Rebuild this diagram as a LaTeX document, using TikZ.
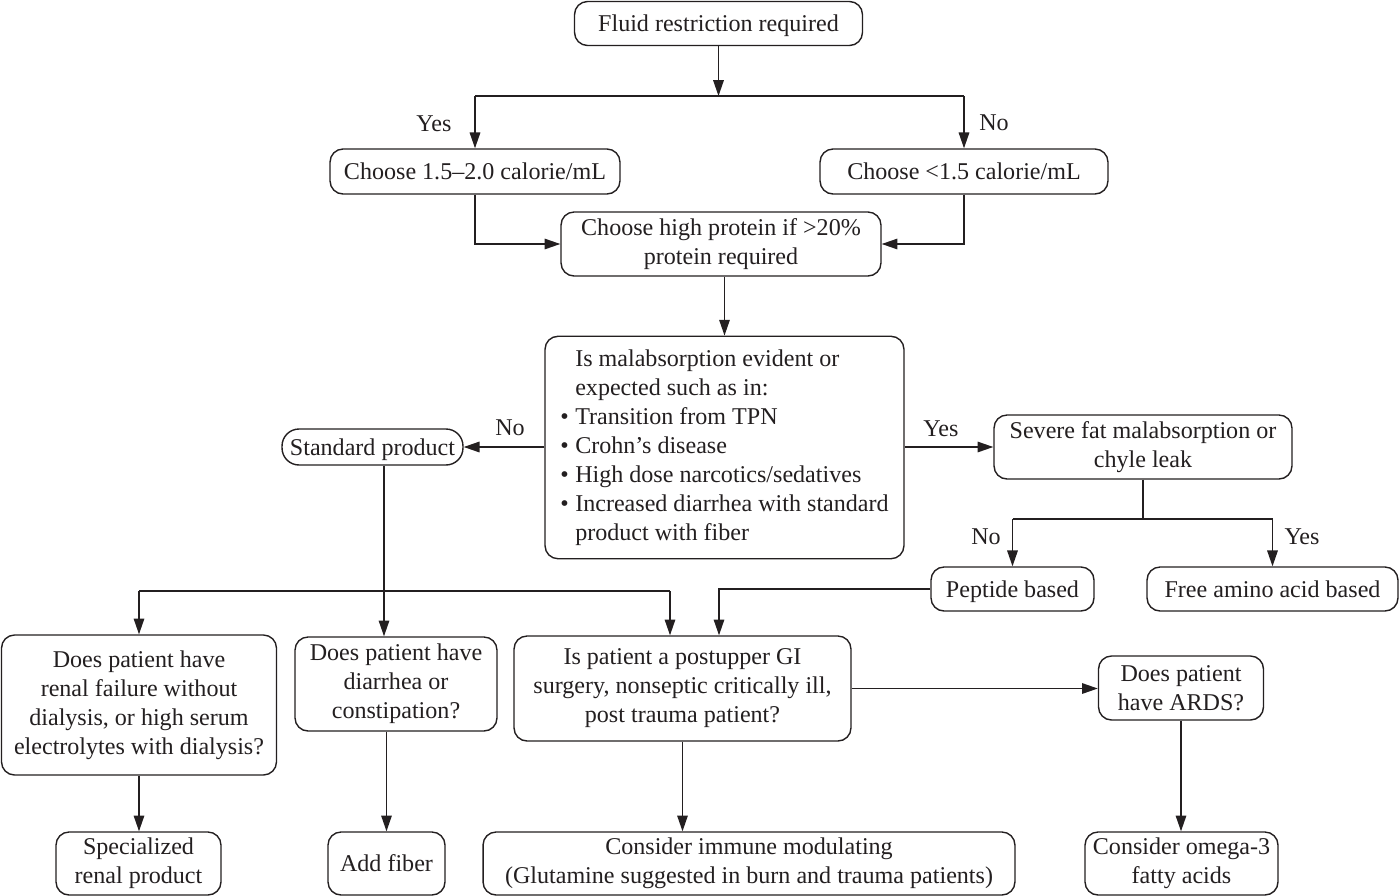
\documentclass[tikz,border=0pt]{standalone}
\usepackage{fontspec}
\setmainfont{Liberation Serif}
\usepackage{tikz}
\usetikzlibrary{arrows.meta, positioning, calc}
\definecolor{flowink}{RGB}{35,31,32}
\newcommand{\flowfont}{\fontsize{13.7}{16.5}\selectfont}
\newcommand{\bul}{\makebox[0.3cm][l]{\textbullet}}
\newcommand{\ind}{\hspace*{0.3cm}}
\tikzset{
  box/.style={rectangle, draw=flowink, fill=white, align=center,
    font=\flowfont, rounded corners=0.26cm, line width=0.8pt,
    inner sep=2pt, text=flowink},
  onebox/.style={box, text depth=0pt},
  pill/.style={onebox, rounded corners=0.34cm},
  lbl/.style={font=\flowfont, text=flowink, inner sep=0pt},
  arrow/.style={-{Triangle[length=9pt, width=6pt]}, line width=0.8pt, color=flowink},
  line/.style={line width=0.8pt, color=flowink}
}

\begin{document}
\begin{tikzpicture}[x=0.02cm, y=-0.02cm]
  \useasboundingbox (0,0) rectangle (1400,896);
  % top part
  \node[onebox, minimum width=5.76cm, minimum height=0.88cm] (fluid) at (718.5,23.5) {Fluid restriction required};
  \node[onebox, minimum width=5.8cm, minimum height=0.9cm] (choosehi) at (475,171.5) {Choose 1.5--2.0 calorie/mL};
  \node[onebox, minimum width=5.76cm, minimum height=0.9cm] (chooselo) at (964,171.5) {Choose <1.5 calorie/mL};
  \node[box, minimum width=6.4cm, minimum height=1.28cm] (protein) at (721,244) {Choose high protein if >20\%\\protein required};
  % malabsorption question
  \node[box, align=left, minimum width=7.18cm, minimum height=4.45cm] (malabs) at (724.5,447.5)
    {\ind Is malabsorption evident or\\
     \ind expected such as in:\\
     \bul Transition from TPN\\
     \bul Crohn's disease\\
     \bul High dose narcotics/sedatives\\
     \bul Increased diarrhea with standard\\
     \ind product with fiber};
  \node[pill, minimum width=3.62cm, minimum height=0.72cm] (standard) at (372.5,447) {Standard product};
  \node[box, minimum width=5.96cm, minimum height=1.28cm] (severe) at (1143,447) {Severe fat malabsorption or\\chyle leak};
  \node[onebox, minimum width=3.26cm, minimum height=0.88cm] (peptide) at (1012.5,589) {Peptide based};
  \node[onebox, minimum width=5.02cm, minimum height=0.88cm] (freeaa) at (1272.5,589) {Free amino acid based};
  % questions row
  \node[box, minimum width=5.5cm, minimum height=2.8cm] (renal) at (139,705) {Does patient have\\renal failure without\\dialysis, or high serum\\electrolytes with dialysis?};
  \node[box, minimum width=4.04cm, minimum height=1.88cm] (diarrhea) at (396,684) {Does patient have\\diarrhea or\\constipation?};
  \node[box, minimum width=6.74cm, minimum height=2.1cm] (postop) at (682.5,688.5) {Is patient a postupper GI\\surgery, nonseptic critically ill,\\post trauma patient?};
  \node[box, minimum width=3.3cm, minimum height=1.28cm] (ards) at (1181,688) {Does patient\\have ARDS?};
  % results row
  \node[box, minimum width=3.3cm, minimum height=1.26cm] (renalprod) at (138.5,863.5) {Specialized\\renal product};
  \node[onebox, minimum width=2.34cm, minimum height=1.26cm] (fiber) at (386.5,863.5) {Add fiber};
  \node[box, minimum width=10.64cm, minimum height=1.26cm] (immune) at (749,863.5) {Consider immune modulating\\(Glutamine suggested in burn and trauma patients)};
  \node[box, minimum width=3.86cm, minimum height=1.26cm] (omega) at (1181.5,863.5) {Consider omega-3\\fatty acids};
  % yes/no labels
  \node[lbl] (yestop) at (434,124) {Yes};
  \node[lbl] (notop) at (994,123) {No};
  \node[lbl] (nomal) at (510,428) {No};
  \node[lbl] (yesmal) at (941,429) {Yes};
  \node[lbl] (nofat) at (986,537) {No};
  \node[lbl] (yesfat) at (1302,537) {Yes};
  % junction points
  \coordinate (splittop) at (718.5,96);
  \coordinate (splitfat) at (1143,519);
  \coordinate (splitstd) at (384,591);
  \coordinate (inleft) at (670,591);
  \coordinate (inright) at (719,591);
  % connectors
  \draw[arrow] (fluid.south) -- (splittop);
  \draw[line] (choosehi.north |- splittop) -- (chooselo.north |- splittop);
  \draw[arrow] (choosehi.north |- splittop) -- (choosehi.north);
  \draw[arrow] (chooselo.north |- splittop) -- (chooselo.north);
  \draw[arrow] (choosehi.south) |- (protein.west);
  \draw[arrow] (chooselo.south) |- (protein.east);
  \draw[arrow] (malabs.north |- protein.south) -- (malabs.north);
  \draw[arrow] (malabs.west |- standard.east) -- (standard.east);
  \draw[arrow] (malabs.east |- severe.west) -- (severe.west);
  \draw[line] (severe.south) -- (splitfat);
  \draw[line] (peptide.north |- splitfat) -- (freeaa.north |- splitfat);
  \draw[arrow] (peptide.north |- splitfat) -- (peptide.north);
  \draw[arrow] (freeaa.north |- splitfat) -- (freeaa.north);
  \draw[arrow] (splitstd |- standard.south) -- (splitstd |- diarrhea.north);
  \draw[line] (renal.north |- splitstd) -- (inleft);
  \draw[arrow] (renal.north |- splitstd) -- (renal.north);
  \draw[arrow] (inleft) -- (inleft |- postop.north);
  \draw[arrow] (peptide.west) -| (inright |- postop.north);
  \draw[arrow] (postop.east) -- (postop.east -| ards.west);
  \draw[arrow] (renal.south) -- (renal.south |- renalprod.north);
  \draw[arrow] (fiber.north |- diarrhea.south) -- (fiber.north);
  \draw[arrow] (postop.south) -- (postop.south |- immune.north);
  \draw[arrow] (ards.south) -- (ards.south |- omega.north);
\end{tikzpicture}
\end{document}
